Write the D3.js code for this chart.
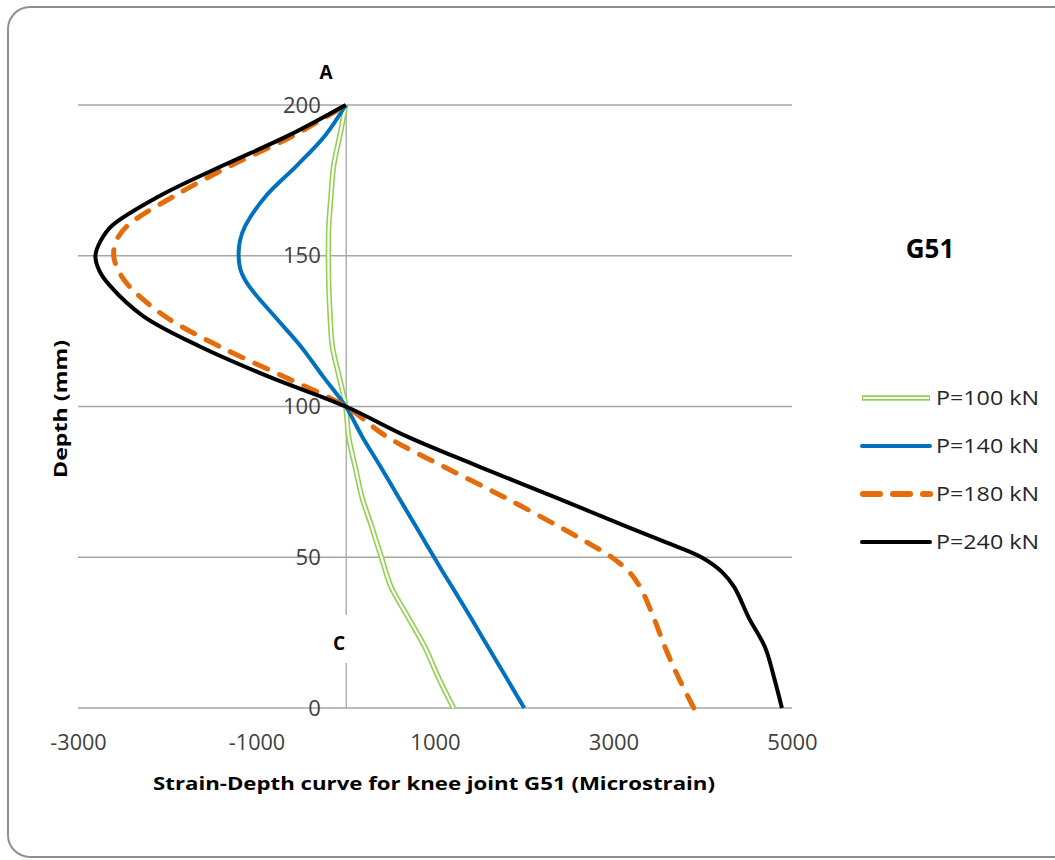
<!DOCTYPE html>
<html>
<head>
<meta charset="utf-8">
<script src="https://cdn.jsdelivr.net/npm/d3@7"></script>
<style>
  body { margin: 0; background: #fff; }
  svg { display: block; }
  .tick text { font-family: "Open Sans", sans-serif; font-size: 22px; fill: #404040; }
</style>
</head>
<body>
<svg id="chart" width="1055" height="860"></svg>
<script>
// depth positions (mm) shared by all series
const depths = [0, 10, 20, 30, 40, 45, 50, 55, 60, 70, 80, 90, 100, 110, 120, 130, 140, 145, 150, 155, 160, 170, 180, 190, 200];

// strain (microstrain) at each depth
const p100 = [1208, 1040, 890, 700, 510, 450, 400, 345, 293, 181, 106, 32, 0, -75, -150, -175, -190, -193, -195, -194, -190, -165, -135, -65, 0];
const p140 = [2000, 1800, 1600, 1400, 1195, 1090, 990, 890, 790, 590, 390, 185, 0, -255, -505, -800, -1085, -1175, -1200, -1185, -1125, -890, -545, -228, 0];
const p180 = [3900, 3730, 3580, 3450, 3300, 3180, 2980, 2700, 2400, 1770, 1100, 460, 0, -700, -1420, -2030, -2430, -2545, -2600, -2570, -2445, -1910, -1280, -575, 0];
const p240 = [4887, 4800, 4700, 4515, 4355, 4220, 3985, 3583, 3162, 2336, 1500, 690, 0, -870, -1640, -2270, -2640, -2760, -2805, -2745, -2617, -2075, -1370, -633, 0];

const seriesNames = ["P=100 kN", "P=140 kN", "P=180 kN", "P=240 kN"];
const xTicks = [-3000, -1000, 1000, 3000, 5000];
const yTicks = [0, 50, 100, 150, 200];

const svg = d3.select("#chart");

// chart frame
svg.append("rect")
  .attr("x", 8).attr("y", 7)
  .attr("width", 1070).attr("height", 850)
  .attr("rx", 22)
  .attr("fill", "#fff")
  .attr("stroke", "#8f8f8f")
  .attr("stroke-width", 2);

const x = d3.scaleLinear().domain([-3000, 5000]).range([78, 792]);
const y = d3.scaleLinear().domain([0, 200]).range([708, 105]);

// horizontal gridlines
svg.append("g")
  .selectAll("line")
  .data(yTicks)
  .enter()
  .append("line")
  .attr("x1", x(-3000)).attr("x2", x(5000))
  .attr("y1", d => y(d)).attr("y2", d => y(d))
  .attr("stroke", "#a6a6a6")
  .attr("stroke-width", 1.3);

// narrow tick labels, like the original condensed font
const squeeze = (sel) => sel.selectAll(".tick text")
  .attr("textLength", d => {
    const s = String(d);
    return s.replace("-", "").length * 12.6 + (s.startsWith("-") ? 6 : 0);
  })
  .attr("lengthAdjust", "spacingAndGlyphs");

// vertical axis at strain 0
const yAxis = svg.append("g")
  .attr("transform", `translate(${x(0)},0)`)
  .call(d3.axisLeft(y).tickValues(yTicks).tickSize(0).tickPadding(25).tickFormat(d => String(d)))
  .call(squeeze);
yAxis.select(".domain").attr("stroke", "#a6a6a6").attr("stroke-width", 1.3);

// x tick labels below the plot
const xAxis = svg.append("g")
  .attr("transform", `translate(0,${y(0)})`)
  .call(d3.axisBottom(x).tickValues(xTicks).tickSize(0).tickPadding(26).tickFormat(d => String(d)))
  .call(squeeze);
xAxis.select(".domain").remove();

// series lines
const line = (vals) => d3.line()
  .x((d, i) => x(vals[i]))
  .y(d => y(d))
  .curve(d3.curveCatmullRom.alpha(0.5))(depths);

// P=100: double green line
svg.append("path").attr("d", line(p100))
  .attr("fill", "none").attr("stroke", "#92d050").attr("stroke-width", 5.4);
svg.append("path").attr("d", line(p100))
  .attr("fill", "none").attr("stroke", "#fff").attr("stroke-width", 2.2);

svg.append("path").attr("d", line(p140))
  .attr("fill", "none").attr("stroke", "#0070c0").attr("stroke-width", 4);

svg.append("path").attr("d", line(p180))
  .attr("fill", "none").attr("stroke", "#e46c0a").attr("stroke-width", 5)
  .attr("stroke-dasharray", "14,13").attr("stroke-linecap", "round");

svg.append("path").attr("d", line(p240))
  .attr("fill", "none").attr("stroke", "#000").attr("stroke-width", 4);

// point labels
svg.append("text")
  .attr("x", 326).attr("y", 79)
  .attr("text-anchor", "middle")
  .attr("font-family", "Open Sans, sans-serif")
  .attr("font-weight", "bold").attr("font-size", 19)
  .text("A");

svg.append("rect")
  .attr("x", 326).attr("y", 615).attr("width", 28).attr("height", 48)
  .attr("fill", "#fff");
svg.append("text")
  .attr("x", 339).attr("y", 650)
  .attr("text-anchor", "middle")
  .attr("font-family", "Open Sans, sans-serif")
  .attr("font-weight", "bold").attr("font-size", 19)
  .text("C");

// chart title on the right
svg.append("text")
  .attr("x", 930).attr("y", 258)
  .attr("text-anchor", "middle")
  .attr("font-family", "Open Sans, sans-serif")
  .attr("font-weight", "bold").attr("font-size", 26)
  .text("G51");

// axis titles
svg.append("text")
  .attr("x", 434).attr("y", 790)
  .attr("text-anchor", "middle")
  .attr("font-family", "Open Sans, sans-serif")
  .attr("font-weight", "bold").attr("font-size", 18)
  .attr("textLength", 562).attr("lengthAdjust", "spacingAndGlyphs")
  .text("Strain-Depth curve for knee joint G51 (Microstrain)");

svg.append("text")
  .attr("transform", "translate(67,409) rotate(-90)")
  .attr("text-anchor", "middle")
  .attr("font-family", "Open Sans, sans-serif")
  .attr("font-weight", "bold").attr("font-size", 18)
  .attr("textLength", 138).attr("lengthAdjust", "spacingAndGlyphs")
  .text("Depth  (mm)");

// legend
const legendY = [398, 446, 494, 542];
const legend = svg.append("g");
seriesNames.forEach((name, i) => {
  const ly = legendY[i];
  if (i === 0) {
    legend.append("line").attr("x1", 862).attr("x2", 930).attr("y1", ly).attr("y2", ly)
      .attr("stroke", "#92d050").attr("stroke-width", 5.4);
    legend.append("line").attr("x1", 863).attr("x2", 929).attr("y1", ly).attr("y2", ly)
      .attr("stroke", "#fff").attr("stroke-width", 2.2);
  } else if (i === 1) {
    legend.append("line").attr("x1", 862).attr("x2", 930).attr("y1", ly).attr("y2", ly)
      .attr("stroke", "#0070c0").attr("stroke-width", 4).attr("stroke-linecap", "round");
  } else if (i === 2) {
    legend.append("line").attr("x1", 863).attr("x2", 930).attr("y1", ly).attr("y2", ly)
      .attr("stroke", "#e46c0a").attr("stroke-width", 6)
      .attr("stroke-dasharray", "17,13").attr("stroke-linecap", "round");
  } else {
    legend.append("line").attr("x1", 862).attr("x2", 930).attr("y1", ly).attr("y2", ly)
      .attr("stroke", "#000").attr("stroke-width", 4).attr("stroke-linecap", "round");
  }
  legend.append("text")
    .attr("x", 936).attr("y", ly + 7)
    .attr("font-family", "Open Sans, sans-serif")
    .attr("font-size", 20).attr("fill", "#262626")
    .attr("textLength", 103).attr("lengthAdjust", "spacingAndGlyphs")
    .text(name);
});
</script>
</body>
</html>
